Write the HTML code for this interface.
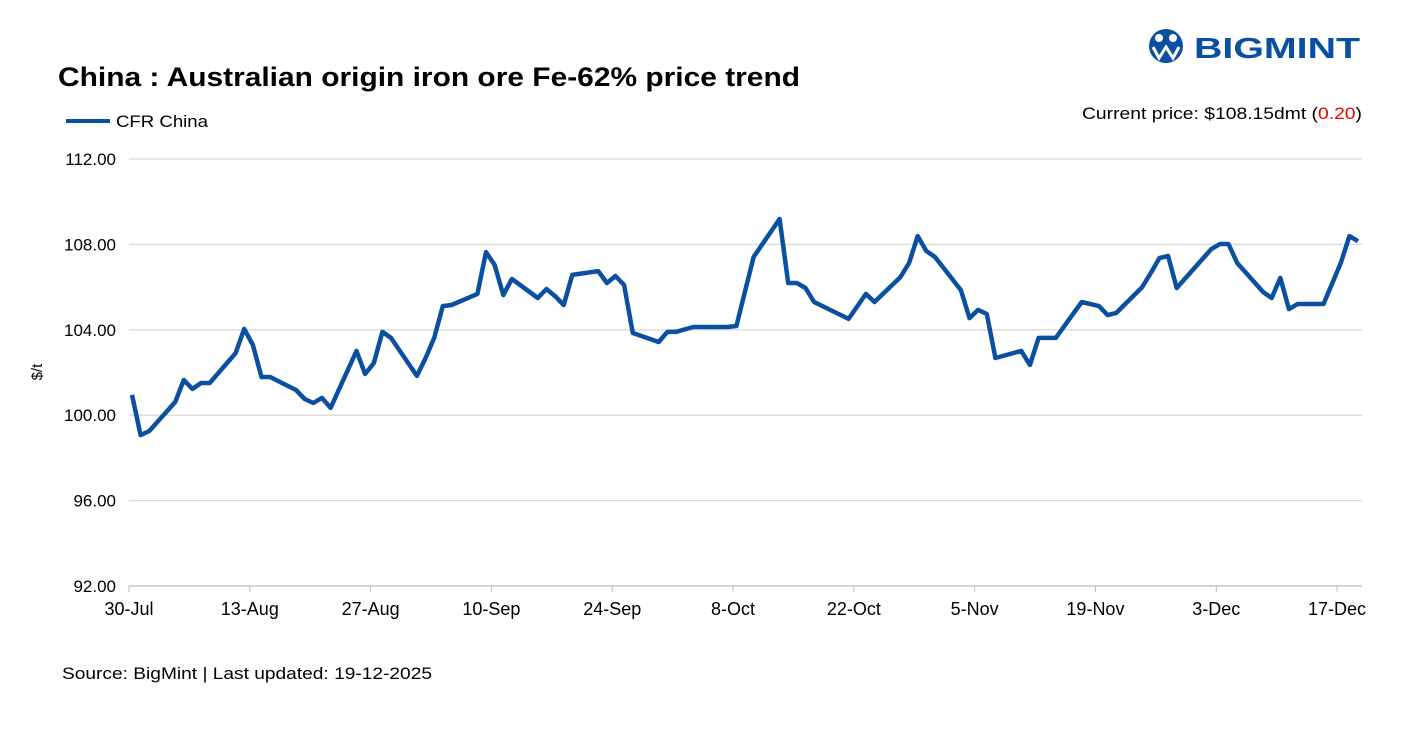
<!DOCTYPE html>
<html><head><meta charset="utf-8"><style>
body{margin:0;background:#fff;width:1415px;height:737px;overflow:hidden;font-family:"Liberation Sans",sans-serif;}
</style></head><body>
<svg width="1415" height="737" style="position:absolute;left:0;top:0">
<text x="58" y="86" font-size="27" font-weight="bold" fill="#000" textLength="742" lengthAdjust="spacingAndGlyphs">China : Australian origin iron ore Fe-62% price trend</text>
<g>
<circle cx="1166" cy="46" r="17" fill="#0b4fa0"/>
<circle cx="1159" cy="38" r="4" fill="#fff"/><circle cx="1173" cy="38" r="4" fill="#fff"/>
<path d="M1153 47 L1159 58 L1166 47 L1173 58 L1179 47" stroke="#fff" stroke-width="3" fill="none"/>
<text x="1194" y="58" font-size="29" font-weight="bold" fill="#0b4fa0" textLength="166" lengthAdjust="spacingAndGlyphs">BIGMINT</text>
</g>
<line x1="66" y1="121" x2="110" y2="121" stroke="#0b4fa0" stroke-width="4"/>
<text x="116" y="127" font-size="17" fill="#000" textLength="92" lengthAdjust="spacingAndGlyphs">CFR China</text>
<text x="1082" y="119" font-size="17" fill="#000" textLength="280" lengthAdjust="spacingAndGlyphs">Current price: $108.15dmt (<tspan fill="#e00">0.20</tspan>)</text>
<text transform="translate(42,372) rotate(-90)" font-size="15" text-anchor="middle">$/t</text>
<g id="grid"></g><g id="xt"></g>
<path id="line" fill="none" stroke="#0b4fa0" stroke-width="4.5" stroke-linejoin="round"/>
<text x="62" y="679" font-size="17" textLength="370" lengthAdjust="spacingAndGlyphs">Source: BigMint | Last updated: 19-12-2025</text>
</svg>
<script>
const yTicks=[92,96,100,104,108,112];
const xTickLabels=["30-Jul","13-Aug","27-Aug","10-Sep","24-Sep","8-Oct","22-Oct","5-Nov","19-Nov","3-Dec","17-Dec"];
const days=[0,1,2,5,6,7,8,9,12,13,14,15,16,19,20,21,22,23,26,27,28,29,30,33,34,35,36,37,40,41,42,43,44,47,48,49,50,51,54,55,56,57,58,61,62,63,65,69,70,72,75,76,77,78,79,83,85,86,89,90,91,92,93,96,97,98,99,100,103,104,105,107,110,112,113,114,117,118,119,120,121,125,126,127,128,131,132,133,134,135,138,140,141,142];
const prices=[100.95,99.07,99.26,100.62,101.65,101.23,101.51,101.51,102.91,104.04,103.29,101.79,101.79,101.18,100.76,100.57,100.81,100.34,103.01,101.93,102.44,103.90,103.62,101.84,102.68,103.62,105.11,105.16,105.68,107.64,107.04,105.63,106.38,105.49,105.91,105.58,105.16,106.57,106.75,106.19,106.52,106.10,103.85,103.43,103.90,103.90,104.13,104.13,104.18,107.41,109.19,106.19,106.19,105.96,105.30,104.51,105.68,105.30,106.47,107.13,108.39,107.69,107.41,105.86,104.55,104.93,104.74,102.68,103.01,102.35,103.62,103.62,105.30,105.11,104.69,104.79,106.00,106.66,107.36,107.46,105.96,107.78,108.02,108.02,107.13,105.77,105.49,106.43,104.97,105.21,105.21,107.13,108.39,108.15];
const X=d=>129+d*8.629, XL=d=>132+d*8.634, Y=v=>586-(v-92)*21.35;
const ns="http://www.w3.org/2000/svg";
const grid=document.getElementById('grid'), xt=document.getElementById('xt');
yTicks.forEach(v=>{
 const l=document.createElementNS(ns,'line');
 l.setAttribute('x1',129);l.setAttribute('x2',1362);l.setAttribute('y1',Y(v));l.setAttribute('y2',Y(v));
 l.setAttribute('stroke',v===92?'#bbb':'#d9d9d9');l.setAttribute('stroke-width',1.3);
 
 
 grid.appendChild(l);
 const t=document.createElementNS(ns,'text');
 t.setAttribute('x',116);t.setAttribute('y',Y(v)+6);t.setAttribute('text-anchor','end');t.setAttribute('font-size','17');
 t.textContent=v.toFixed(2);
 
 
 grid.appendChild(t);
});
xTickLabels.forEach((s,i)=>{
 const x=X(i*14);
 const l=document.createElementNS(ns,'line');
 l.setAttribute('x1',x);l.setAttribute('x2',x);l.setAttribute('y1',586);l.setAttribute('y2',592);l.setAttribute('stroke','#bbb');
 
 
 xt.appendChild(l);
 const t=document.createElementNS(ns,'text');
 t.setAttribute('x',x);t.setAttribute('y',615);t.setAttribute('text-anchor','middle');t.setAttribute('font-size','18');
 t.textContent=s;
 
 
 xt.appendChild(t);
});
document.getElementById('line').setAttribute('d',days.map((d,i)=>(i?'L':'M')+XL(d).toFixed(1)+' '+Y(prices[i]).toFixed(1)).join(' '));
</script>
</body></html>
